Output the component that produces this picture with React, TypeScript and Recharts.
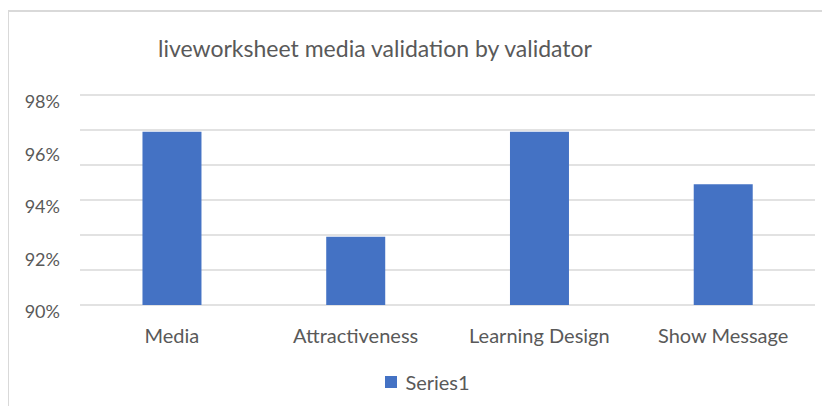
import React from 'react';
import { BarChart, Bar, XAxis, YAxis, CartesianGrid, Legend } from 'recharts';

const categories = ['Media', 'Attractiveness', 'Learning Design', 'Show Message'];
const series1 = [0.966, 0.926, 0.966, 0.946];
const yTicks = [0.9, 0.92, 0.94, 0.96, 0.98];

const data = categories.map((name, i) => ({ name, Series1: series1[i] }));

const FONT = 'Lato, "Open Sans", sans-serif';
const TEXT = '#595959';
const GRID = '#d9d9d9';
const BLUE = '#4472C4';

// excel draws more gridlines than labels here: 6 equal bands over the plot
const gridLines = ({ offset }: any) => {
  const out: number[] = [];
  for (let i = 0; i <= 6; i++) out.push(offset.top + (offset.height * i) / 6);
  return out;
};

const YTick = ({ x, y, payload }: any) => (
  <text x={x} y={y + 6} textAnchor="end" dominantBaseline="central" fill={TEXT} fontSize={18} fontFamily={FONT}>
    {Math.round(payload.value * 100)}%
  </text>
);

const LegendContent = () => (
  <div style={{ display: 'flex', alignItems: 'center', justifyContent: 'center', fontFamily: FONT, fontSize: 20, color: TEXT }}>
    <span style={{ width: 12, height: 12, background: BLUE, display: 'inline-block', marginRight: 8 }} />
    Series1
  </div>
);

export default function App() {
  return (
    <div style={{ position: 'relative', width: 830, height: 414, margin: -8, overflow: 'hidden', background: '#fff' }}>
      <div
        style={{
          position: 'absolute',
          left: 7,
          top: 10,
          width: 900,
          height: 500,
          borderLeft: `2px solid ${GRID}`,
          borderTop: `2px solid ${GRID}`,
        }}
      />
      <div
        style={{
          position: 'absolute',
          left: 0,
          width: 750,
          top: 34,
          textAlign: 'center',
          fontFamily: FONT,
          fontSize: 23,
          color: TEXT,
        }}
      >
        liveworksheet media validation by validator
      </div>
      <div style={{ position: 'absolute', left: 0, top: 0 }}>
        <BarChart width={830} height={414} data={data} margin={{ top: 95, right: 15, left: 8, bottom: 55 }} barCategoryGap="34%">
          <CartesianGrid vertical={false} stroke={GRID} strokeWidth={1.5} horizontalCoordinatesGenerator={gridLines} />
          <XAxis
            dataKey="name"
            axisLine={false}
            tickLine={false}
            tickSize={0}
            tickMargin={24}
            height={30}
            tick={{ fill: TEXT, fontSize: 20, fontFamily: FONT }}
          />
          <YAxis
            domain={[0.9, 0.98]}
            ticks={yTicks}
            width={72}
            axisLine={false}
            tickLine={false}
            tickSize={0}
            tickMargin={20}
            tick={<YTick />}
          />
          <Legend verticalAlign="bottom" height={24} wrapperStyle={{ top: 370, left: 24 }} content={<LegendContent />} />
          <Bar dataKey="Series1" fill={BLUE} isAnimationActive={false} />
        </BarChart>
      </div>
    </div>
  );
}
